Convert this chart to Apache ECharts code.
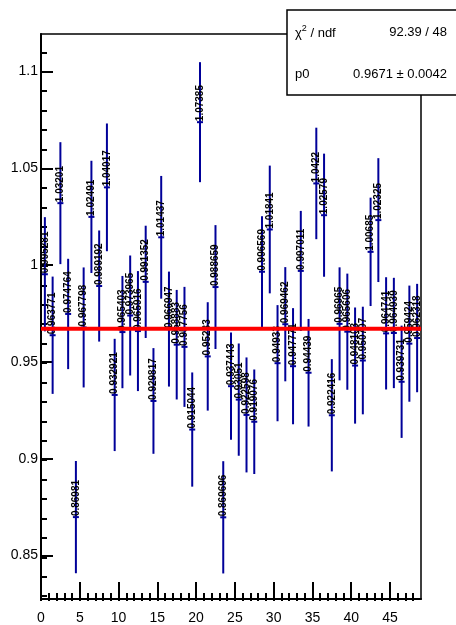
<!DOCTYPE html>
<html>
<head>
<meta charset="utf-8">
<script src="https://cdn.jsdelivr.net/npm/echarts@6/dist/echarts.min.js"></script>
<style>
html,body{margin:0;padding:0;background:#ffffff;}
#chart{width:456px;height:625px;}
</style>
</head>
<body>
<div id="chart"></div>
<script>
// ---- data ----
const binCenters = [0.5,1.5,2.5,3.5,4.5,5.5,6.5,7.5,8.5,9.5,10.5,11.5,12.5,13.5,14.5,15.5,16.5,17.5,18.5,19.5,20.5,21.5,22.5,23.5,24.5,25.5,26.5,27.5,28.5,29.5,30.5,31.5,32.5,33.5,34.5,35.5,36.5,37.5,38.5,39.5,40.5,41.5,42.5,43.5,44.5,45.5,46.5,47.5,48.5];
const values = [0.995281,0.963771,1.03201,0.974764,0.86981,0.967798,1.02491,0.989192,1.04017,0.932921,
                0.965403,0.973965,0.965916,0.991352,0.929817,1.01437,0.966947,0.958883,0.957756,0.915044,
                1.07385,0.95283,0.988659,0.869696,0.937443,0.93051,0.922598,0.919076,0.996569,1.01841,
                0.94933,0.969462,0.947771,0.997011,0.94439,1.0422,1.02579,0.922416,0.96965,0.965606,
                0.948103,0.950707,1.00685,1.02325,0.964741,0.964939,0.939731,0.959424,0.962318];
const errors = [0.0295,0.0303,0.0315,0.0285,0.029,0.031,0.029,0.0287,0.033,0.029,
                0.029,0.031,0.031,0.029,0.0273,0.0317,0.0297,0.0283,0.031,0.0295,
                0.031,0.028,0.032,0.029,0.0277,0.029,0.0297,0.027,0.0287,0.033,
                0.030,0.0295,0.030,0.031,0.0278,0.0288,0.0318,0.029,0.0292,0.030,
                0.030,0.0278,0.028,0.032,0.029,0.0285,0.029,0.030,0.028];
const pointLabels = ["0.995281","0.963771","1.03201","0.974764","0.86981","0.967798","1.02491","0.989192","1.04017","0.932921",
                     "0.965403","0.973965","0.965916","0.991352","0.929817","1.01437","0.966947","0.958883","0.957756","0.915044",
                     "1.07385","0.95283","0.988659","0.869696","0.937443","0.93051","0.922598","0.919076","0.996569","1.01841",
                     "0.94933","0.969462","0.947771","0.997011","0.94439","1.0422","1.02579","0.922416","0.96965","0.965606",
                     "0.948103","0.950707","1.00685","1.02325","0.964741","0.964939","0.939731","0.959424","0.962318"];
const fitValue = 0.9671;
const fitRange = [0, 49];
const xRange = [0, 49];
const yRange = [0.8275, 1.1194];
const xMajorTicks = [0,5,10,15,20,25,30,35,40,45];
const xMinorTicks = [0,1,2,3,4,5,6,7,8,9,10,11,12,13,14,15,16,17,18,19,20,21,22,23,24,25,26,27,28,29,30,31,32,33,34,35,36,37,38,39,40,41,42,43,44,45,46,47,48];
const yMajorTicks = [0.85,0.9,0.95,1,1.05,1.1];
const yMinorTicks = [0.83,0.84,0.85,0.86,0.87,0.88,0.89,0.9,0.91,0.92,0.93,0.94,0.95,0.96,0.97,0.98,0.99,1,1.01,1.02,1.03,1.04,1.05,1.06,1.07,1.08,1.09,1.1,1.11];
const statNames = ["chi2", "p0"];
const statValues = ["92.39 / 48", "0.9671 \u00b1 0.0042"];

// ---- chart ----
const FONT = '"Liberation Sans", Arial, Helvetica, sans-serif';
const BLUE = '#000099';
const chart = echarts.init(document.getElementById('chart'), null, {renderer: 'canvas'});

const tickStyle = {color: '#000', width: 2};
const errData = binCenters.map((x, i) => [x, values[i], errors[i]]);
const gridBox = {left: 41, right: 35, top: 34, bottom: 24};

const option = {
  animation: false,
  backgroundColor: '#ffffff',
  grid: [
    Object.assign({show: true, borderColor: '#000', borderWidth: 1.5, backgroundColor: 'transparent'}, gridBox),
    Object.assign({show: false}, gridBox)
  ],
  xAxis: [
    {
      gridIndex: 0, type: 'value', min: xRange[0], max: xRange[1], position: 'bottom',
      axisLine: {show: true, onZero: false, lineStyle: {color: '#000', width: 2}},
      axisTick: {show: true, inside: true, length: 17, customValues: xMajorTicks, lineStyle: tickStyle},
      axisLabel: {show: true, customValues: xMajorTicks, margin: 12, color: '#000', fontSize: 14, fontFamily: FONT},
      splitLine: {show: false}
    },
    {
      gridIndex: 1, type: 'value', min: xRange[0], max: xRange[1], position: 'bottom',
      axisLine: {show: false, onZero: false},
      axisTick: {show: true, inside: true, length: 8, customValues: xMinorTicks, lineStyle: tickStyle},
      axisLabel: {show: false},
      splitLine: {show: false}
    }
  ],
  yAxis: [
    {
      gridIndex: 0, type: 'value', min: yRange[0], max: yRange[1], position: 'left',
      axisLine: {show: true, onZero: false, lineStyle: {color: '#000', width: 2}},
      axisTick: {show: true, inside: true, length: 12, customValues: yMajorTicks, lineStyle: tickStyle},
      axisLabel: {show: true, customValues: yMajorTicks, margin: 3, color: '#000', fontSize: 14, fontFamily: FONT},
      splitLine: {show: false}
    },
    {
      gridIndex: 1, type: 'value', min: yRange[0], max: yRange[1], position: 'left',
      axisLine: {show: false, onZero: false},
      axisTick: {show: true, inside: true, length: 6, customValues: yMinorTicks, lineStyle: tickStyle},
      axisLabel: {show: false},
      splitLine: {show: false}
    }
  ],
  series: [
    {
      type: 'custom',
      xAxisIndex: 0, yAxisIndex: 0,
      z: 2,
      data: errData,
      encode: {x: 0, y: 1},
      renderItem: function (params, api) {
        const x = api.value(0), v = api.value(1), e = api.value(2);
        const top = api.coord([x, v + e]);
        const bot = api.coord([x, v - e]);
        const mid = api.coord([x, v]);
        return {
          type: 'group',
          children: [
            {type: 'line', shape: {x1: top[0], y1: top[1], x2: bot[0], y2: bot[1]}, style: {stroke: BLUE, lineWidth: 2}},
            {type: 'line', shape: {x1: mid[0] - 3, y1: mid[1], x2: mid[0] + 3, y2: mid[1]}, style: {stroke: BLUE, lineWidth: 2}},
            {type: 'text', x: mid[0], y: mid[1] - 1, rotation: Math.PI / 2,
              style: {text: pointLabels[params.dataIndex], fill: '#000', fontSize: 10, fontWeight: 'bold', fontFamily: FONT, align: 'left', verticalAlign: 'middle'}}
          ]
        };
      }
    },
    {
      type: 'line',
      xAxisIndex: 0, yAxisIndex: 0,
      z: 5,
      data: [[fitRange[0], fitValue], [fitRange[1], fitValue]],
      symbol: 'none',
      lineStyle: {color: '#ff0000', width: 4},
      silent: true
    }
  ],
  graphic: [
    {type: 'rect', z: 100, shape: {x: 287, y: 10, width: 180, height: 85}, style: {fill: '#ffffff', stroke: '#000', lineWidth: 1.5}},
    {type: 'text', z: 101, x: 295, y: 32, style: {
      text: '{a|\u03c7}{s|2}{a| / ndf}',
      verticalAlign: 'middle', align: 'left',
      rich: {a: {fontSize: 13, fontFamily: FONT, fill: '#000', verticalAlign: 'bottom'},
             s: {fontSize: 9, fontFamily: FONT, fill: '#000', verticalAlign: 'bottom', padding: [0, 0, 6, 0]}}
    }},
    {type: 'text', z: 101, x: 447, y: 32, style: {text: statValues[0], fontSize: 13, fontFamily: FONT, fill: '#000', align: 'right', verticalAlign: 'middle'}},
    {type: 'text', z: 101, x: 295, y: 74, style: {text: statNames[1], fontSize: 13, fontFamily: FONT, fill: '#000', align: 'left', verticalAlign: 'middle'}},
    {type: 'text', z: 101, x: 447, y: 74, style: {text: statValues[1], fontSize: 13, fontFamily: FONT, fill: '#000', align: 'right', verticalAlign: 'middle'}}
  ]
};
chart.setOption(option);
</script>
</body>
</html>
